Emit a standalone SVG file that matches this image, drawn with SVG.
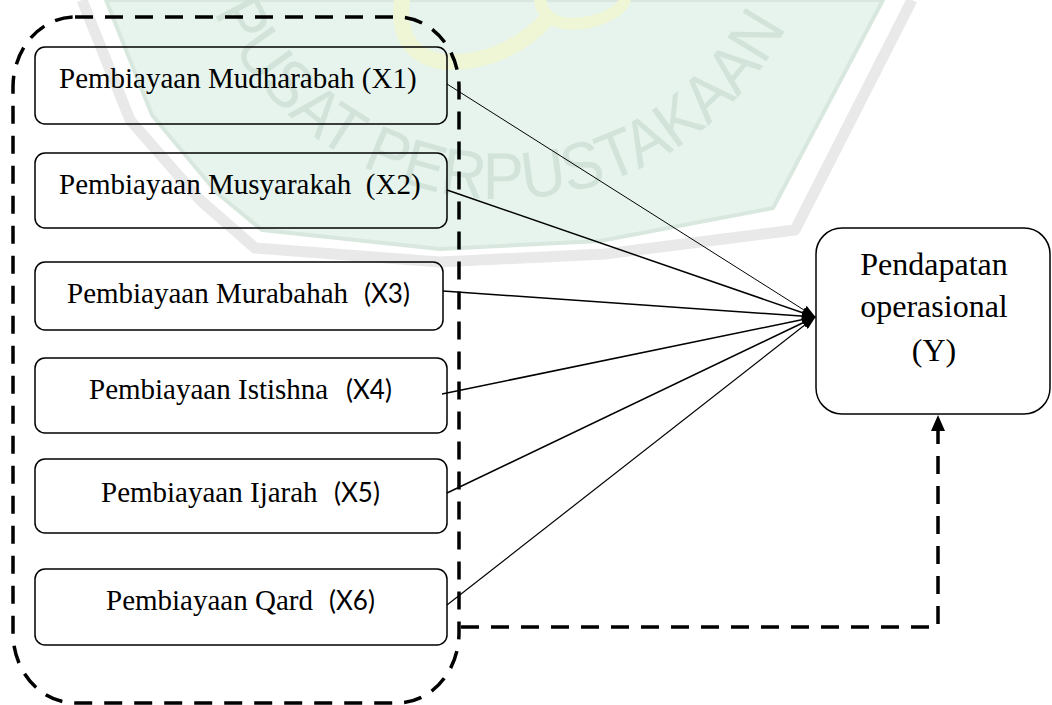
<svg xmlns="http://www.w3.org/2000/svg" width="1052" height="705" viewBox="0 0 1052 705">
  <style>
    .box { fill: none; stroke: #000; stroke-width: 1.5; }
    .lbl { font-family: "Liberation Serif", "Times New Roman", serif; font-size: 29px; fill: #000; white-space: pre; }
    .code { font-family: Lato, "Liberation Sans", sans-serif; font-size: 26px; fill: #000; }
    .ylbl { font-family: "Liberation Serif", "Times New Roman", serif; font-size: 32px; fill: #000; text-anchor: middle; }
    .link { fill: none; stroke: #000; }
    .dash { fill: none; stroke: #000; stroke-width: 3.5; stroke-dasharray: 18 12; }
    .wm { font-family: "Liberation Sans", Arial, sans-serif; font-size: 66px; fill: #d2e3d9; }
  </style>
  <defs>
    <marker id="head" markerUnits="userSpaceOnUse" markerWidth="14" markerHeight="10" refX="13" refY="5" orient="auto">
      <path d="M0,0 L14,5 L0,10 z" fill="#000"/>
    </marker>
    <marker id="up" markerUnits="userSpaceOnUse" markerWidth="16" markerHeight="14" refX="0" refY="7" orient="auto">
      <path d="M0,0 L16,7 L0,14 z" fill="#000"/>
    </marker>
    <path id="wmArc" d="M 214 12 A 318 318 0 0 0 797 4"/>
  </defs>

  <rect width="1052" height="705" fill="#fff"/>

  <g id="watermark">
    <polyline points="82,0 130,120 200,200 255,248 440,262 605,254 795,230 912,0" fill="none" stroke="#e9e9e9" stroke-width="11" stroke-linejoin="round"/>
    <polygon points="106,0 152,115 217,193 262,230 440,249 600,241 773,208 883,0" fill="#e6f4ed" stroke="#d8e8de" stroke-width="4" stroke-linejoin="round"/>
    <path d="M 402 0 Q 395 55 445 62 Q 505 64 548 18" fill="none" stroke="#eef6d6" stroke-width="16" stroke-linecap="round"/>
    <path d="M 540 0 Q 545 30 590 22 Q 620 14 625 0" fill="none" stroke="#eef6d6" stroke-width="12" stroke-linecap="round"/>
    <text class="wm"><textPath href="#wmArc" textLength="712" lengthAdjust="spacingAndGlyphs">PUSAT PERPUSTAKAAN</textPath></text>
  </g>

  <g id="group-x">
    <rect x="13" y="17" width="446" height="686" rx="62" ry="70" class="dash"/>
  </g>

  <g id="connectors">
    <line x1="447" y1="84" x2="815" y2="317" class="link" stroke-width="1" marker-end="url(#head)"/>
    <line x1="447" y1="190" x2="815" y2="317" class="link" stroke-width="1.5" marker-end="url(#head)"/>
    <line x1="443" y1="291" x2="815" y2="317" class="link" stroke-width="1.5" marker-end="url(#head)"/>
    <line x1="442" y1="394" x2="815" y2="317" class="link" stroke-width="1.5" marker-end="url(#head)"/>
    <line x1="447" y1="493" x2="815" y2="317" class="link" stroke-width="1.5" marker-end="url(#head)"/>
    <line x1="447" y1="605" x2="815" y2="317" class="link" stroke-width="1.2" marker-end="url(#head)"/>
    <path d="M 461 627 H 938 V 431" class="dash" marker-end="url(#up)"/>
  </g>

  <g id="x1">
    <rect x="35" y="47" width="412" height="77" rx="10" class="box"/>
    <text x="59" y="88" class="lbl">Pembiayaan Mudharabah (X1)</text>
  </g>
  <g id="x2">
    <rect x="35" y="153" width="412" height="75" rx="10" class="box"/>
    <text x="59" y="194" class="lbl">Pembiayaan Musyarakah  (X2)</text>
  </g>
  <g id="x3">
    <rect x="35" y="262" width="408" height="68" rx="10" class="box"/>
    <text x="67" y="303" class="lbl">Pembiayaan Murabahah  <tspan x="364" class="code">(X3)</tspan></text>
  </g>
  <g id="x4">
    <rect x="35" y="358" width="412" height="75" rx="10" class="box"/>
    <text x="89" y="399" class="lbl">Pembiayaan Istishna  <tspan x="346" class="code">(X4)</tspan></text>
  </g>
  <g id="x5">
    <rect x="35" y="459" width="412" height="74" rx="10" class="box"/>
    <text x="101" y="502" class="lbl">Pembiayaan Ijarah  <tspan x="334" class="code">(X5)</tspan></text>
  </g>
  <g id="x6">
    <rect x="35" y="569" width="412" height="76" rx="10" class="box"/>
    <text x="106" y="610" class="lbl">Pembiayaan Qard  <tspan x="329" class="code">(X6)</tspan></text>
  </g>

  <g id="y">
    <rect x="816" y="228" width="234" height="186" rx="26" class="box"/>
    <text x="934" y="275" class="ylbl">Pendapatan</text>
    <text x="934" y="317" class="ylbl">operasional</text>
    <text x="934" y="361" class="ylbl">(Y)</text>
  </g>
</svg>
